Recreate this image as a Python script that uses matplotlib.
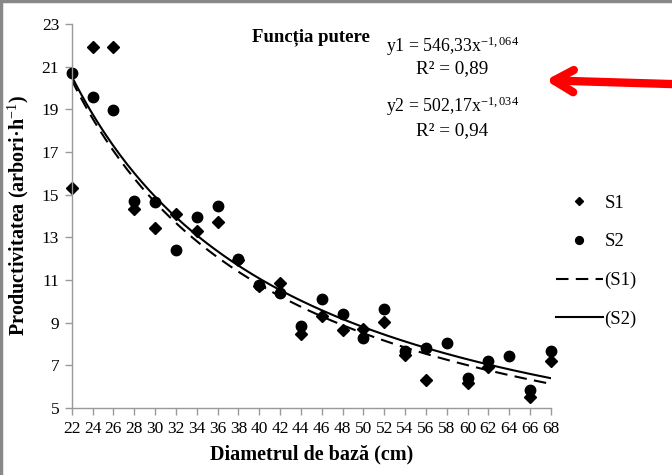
import numpy as np
import matplotlib
matplotlib.use("Agg")
import matplotlib.pyplot as plt
from matplotlib.lines import Line2D

plt.rcParams["font.family"] = ["Liberation Serif", "DejaVu Serif"]
plt.rcParams["mathtext.fontset"] = "custom"
plt.rcParams["mathtext.rm"] = "Liberation Serif"
plt.rcParams["mathtext.it"] = "Liberation Serif:italic"
plt.rcParams["mathtext.bf"] = "Liberation Serif:bold"

# Observed productivity, series S1 (diamonds)
s1_x = [22, 24, 26, 28, 30, 32, 34, 36, 38, 40, 42, 44, 46, 48, 50, 52, 54, 56, 60, 62, 66, 68]
s1_y = [15.3, 21.9, 21.9, 14.35, 13.45, 14.1, 13.3, 13.7, 11.95, 10.7, 10.85, 8.45, 9.3, 8.65, 8.7, 9.05, 7.5, 6.3, 6.15, 6.9, 5.5, 7.2]

# Observed productivity, series S2 (circles)
s2_x = [22, 24, 26, 28, 30, 32, 34, 36, 38, 40, 42, 44, 46, 48, 50, 52, 54, 56, 58, 60, 62, 64, 66, 68]
s2_y = [20.7, 19.6, 18.95, 14.7, 14.65, 12.4, 13.95, 14.45, 12.0, 10.75, 10.4, 8.85, 10.1, 9.4, 8.3, 9.65, 7.65, 7.8, 8.05, 6.4, 7.2, 7.45, 5.85, 7.65]

# Power trendlines y = a * x^b as given on the chart
fit_a = [546.33, 502.17]
fit_b = [-1.064, -1.034]

x_ticks = list(range(22, 69, 2))
y_ticks = list(range(5, 24, 2))

fig = plt.figure(figsize=(6.72, 4.75), dpi=100)
ax = fig.add_axes([0.1067, 0.141, 0.713, 0.8085])

ax.plot(s1_x, s1_y, linestyle="none", marker="D", markersize=6, color="black", label="S1", clip_on=False)
ax.plot(s2_x, s2_y, linestyle="none", marker="o", markersize=7.5, color="black", label="S2", clip_on=False)

xx = np.linspace(22, 68, 200)
ax.plot(xx, fit_a[0] * xx ** fit_b[0], color="black", lw=1.5, dashes=(6, 3.5), label="(S1)")
ax.plot(xx, fit_a[1] * xx ** fit_b[1], color="black", lw=1.5, label="(S2)")

ax.set_xlim(22, 68)
ax.set_ylim(5, 23)
ax.set_xticks(x_ticks)
ax.set_yticks(y_ticks)
ax.tick_params(axis="both", direction="out", length=5, width=1, color="#999999", labelsize=12.5, pad=4)
for side in ["top", "right"]:
    ax.spines[side].set_visible(False)
for side in ["left", "bottom"]:
    ax.spines[side].set_color("#999999")
    ax.spines[side].set_linewidth(1)

ax.set_ylabel("Productivitatea (arbori·h$^{-1}$)", fontsize=14.5, fontweight="bold", labelpad=8)
ax.set_xlabel("Diametrul de bază (cm)", fontsize=14.5, fontweight="bold", labelpad=6)

ax.legend(loc="upper left", bbox_to_anchor=(0.975, 0.60), frameon=False, fontsize=13.5,
          handlelength=2.5, handletextpad=0.1, labelspacing=1.15, markerscale=0.75)

# title and equations
fig.text(0.462, 0.922, "Funcția putere", fontsize=13.5, fontweight="bold", ha="center", va="center")
fig.text(0.673, 0.903, "y1 = 546,33x$^{-1,064}$", fontsize=12.8, ha="center", va="center")
fig.text(0.673, 0.855, "R² = 0,89", fontsize=13.8, ha="center", va="center")
fig.text(0.673, 0.776, "y2 = 502,17x$^{-1,034}$", fontsize=12.8, ha="center", va="center")
fig.text(0.673, 0.726, "R² = 0,94", fontsize=13.8, ha="center", va="center")

# red arrow
ax.annotate("", xy=(0.812, 0.831), xycoords="figure fraction",
            xytext=(1.0, 0.823), textcoords="figure fraction",
            arrowprops=dict(arrowstyle="->,head_length=1.4,head_width=0.8", color="#ff0000", lw=6,
                            shrinkA=0, shrinkB=0, capstyle="round", joinstyle="round"))

# gray image frame on the top and left edges
fig.add_artist(Line2D([0.002, 0.002], [0, 1], transform=fig.transFigure, color="#888888", lw=2.5))
fig.add_artist(Line2D([0, 1], [0.998, 0.998], transform=fig.transFigure, color="#888888", lw=2.5))

fig.savefig("out.png", dpi=100)
